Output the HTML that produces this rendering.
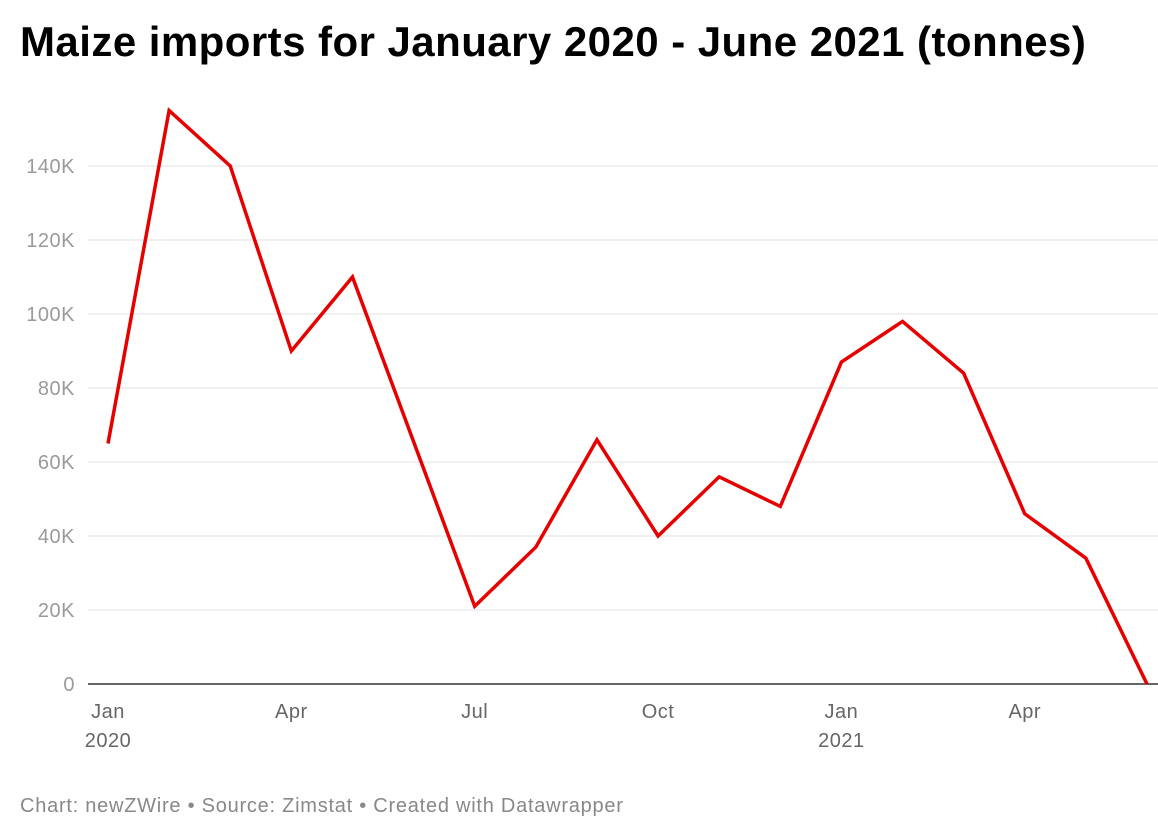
<!DOCTYPE html>
<html><head><meta charset="utf-8">
<style>
body{margin:0;background:#fff;font-family:"Liberation Sans",Arial,sans-serif;}
#wrap{position:relative;width:1158px;height:832px;overflow:hidden;}
h1{position:absolute;left:20px;top:18px;margin:0;font-size:42px;font-weight:bold;color:#000;letter-spacing:0.45px;}
#foot{position:absolute;left:20px;top:795px;font-size:20px;color:#888;letter-spacing:0.75px;}
</style></head>
<body>
<div id="wrap">
<h1>Maize imports for January 2020 - June 2021 (tonnes)</h1>
<svg id="chart" width="1158" height="832" style="position:absolute;left:0;top:0"></svg>
<div id="foot">Chart: newZWire • Source: Zimstat • Created with Datawrapper</div>
</div>
<script>
const months = ["Jan","Feb","Mar","Apr","May","Jun","Jul","Aug","Sep","Oct","Nov","Dec","Jan","Feb","Mar","Apr","May","Jun"];
const imports = [65000,155000,140000,90000,110000,65500,21000,37000,66000,40000,56000,48000,87000,98000,84000,46000,34000,0];
const yTicks = [0,20000,40000,60000,80000,100000,120000,140000];
const yTickLabels = ["0","20K","40K","60K","80K","100K","120K","140K"];
const xTickIdx = [0,3,6,9,12,15];
const xTickLabels = ["Jan","Apr","Jul","Oct","Jan","Apr"];
const xYearLabels = {0:"2020",12:"2021"};

const NS="http://www.w3.org/2000/svg";
const svg=document.getElementById('chart');
const x0=108,x1=1147,yb=684,yt=166;
const xs=i=>x0+(x1-x0)*i/(months.length-1);
const ys=v=>yb-(yb-yt)*v/140000;
function mk(t,a){const e=document.createElementNS(NS,t);for(const k in a)e.setAttribute(k,a[k]);svg.appendChild(e);return e;}
yTicks.forEach((v,i)=>{
  if(v>0){const l=mk('line',{x1:88,x2:1158,y1:ys(v),y2:ys(v),stroke:'#e2e2e2','stroke-width':1});
  
  }
  const t=mk('text',{x:75,y:ys(v)+7,'text-anchor':'end','font-size':20,fill:'#9a9a9a','font-family':'Liberation Sans, sans-serif','letter-spacing':0.5});
  t.textContent=yTickLabels[i];
  
  
});
const base=mk('line',{x1:88,x2:1158,y1:yb,y2:yb,stroke:'#333','stroke-width':1.5});


xTickIdx.forEach((idx,i)=>{
  const t=mk('text',{x:xs(idx),y:718,'text-anchor':'middle','font-size':20,fill:'#666','font-family':'Liberation Sans, sans-serif','letter-spacing':0.5});
  t.textContent=xTickLabels[i];
  
  
  if(xYearLabels[idx]){const y=mk('text',{x:xs(idx),y:747,'text-anchor':'middle','font-size':20,fill:'#666','font-family':'Liberation Sans, sans-serif','letter-spacing':0.5});
  y.textContent=xYearLabels[idx];
  
  }
});
const p=mk('polyline',{points:imports.map((v,i)=>xs(i)+','+ys(v)).join(' '),fill:'none',stroke:'#e60000','stroke-width':3.5,'stroke-linejoin':'miter'});


</script>
</body></html>
